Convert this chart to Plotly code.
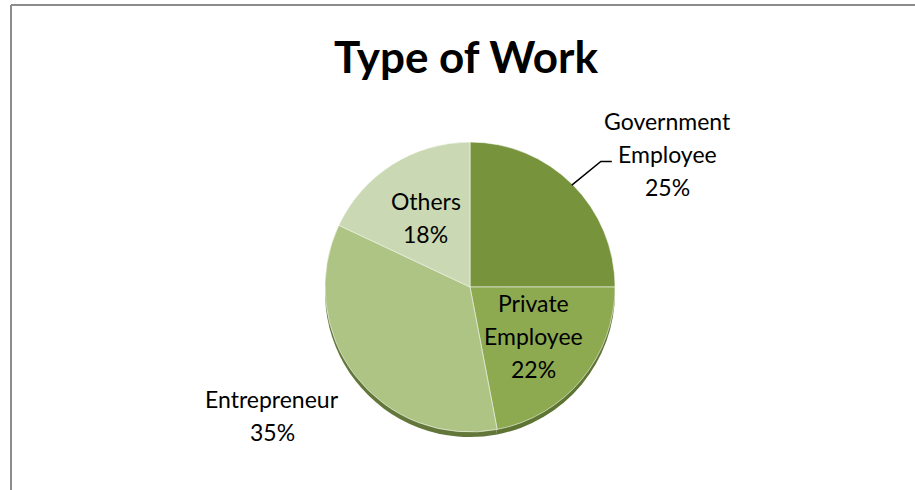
import math
import plotly.graph_objects as go

# ---- data ----
categories = ["Government Employee", "Private Employee", "Entrepreneur", "Others"]
values = [25, 22, 35, 18]
label_lines = [["Government", "Employee", "25%"],
               ["Private", "Employee", "22%"],
               ["Entrepreneur", "35%"],
               ["Others", "18%"]]
title_text = "Type of Work"

# ---- style ----
W, H = 915, 490
colors = ["#77933C", "#8DAA51", "#ADC485", "#CAD9B3"]
rim_colors = ["#55692B", "#5E7432", "#63773A", "#6E8048"]
CX, CY, R = 470, 287, 145
FONT = "Lato"
LINE_H = 33

fig = go.Figure()

def dom(cx, cy, r):
    return dict(x=[(cx - r) / W, (cx + r) / W], y=[1 - (cy + r) / H, 1 - (cy - r) / H])

# 3D rim (same data, darker, shifted down)
fig.add_trace(go.Pie(labels=categories, values=values, sort=False, direction="clockwise",
                     rotation=0, domain=dom(CX, CY + 5, R), textinfo="none", hoverinfo="skip",
                     marker=dict(colors=rim_colors, line=dict(width=0)), showlegend=False))
fig.add_trace(go.Pie(labels=categories, values=values, sort=False, direction="clockwise",
                     rotation=0, domain=dom(CX, CY, R), textinfo="none",
                     marker=dict(colors=colors, line=dict(color="rgba(255,255,255,0.55)", width=1)),
                     showlegend=False))

# label placement derived from slice mid-angles
total = sum(values)
cum = 0
mids = []
for v in values:
    mids.append((cum + v / 2) / total * 2 * math.pi)
    cum += v

# (radial factor, extra dx, extra dy) per label: inside vs outside placement
placement = [(1.0, 95, 30), (0.57, 0, 4), (1.0, -83, -40), (0.57, 0, 0)]

def px_to_paper(x, y):
    return x / W, 1 - y / H

shapes = []
annotations = []
for i, lines in enumerate(label_lines):
    th = mids[i]
    f, ddx, ddy = placement[i]
    lx = CX + math.sin(th) * R * f + ddx
    ly = CY - math.cos(th) * R * f - ddy
    n = len(lines)
    for j, t in enumerate(lines):
        yy = ly + (j - (n - 1) / 2) * LINE_H
        x, y = px_to_paper(lx, yy)
        annotations.append(dict(x=x, y=y, xref="paper", yref="paper", text=t, showarrow=False,
                                xanchor="center", yanchor="middle",
                                font=dict(family=FONT, size=23, color="#000000")))

# leader line for Government label
th = mids[0]
ex, ey = CX + math.sin(th) * (R - 1), CY - math.cos(th) * (R - 1)
lx = CX + math.sin(th) * R + placement[0][1]
ly = CY - math.cos(th) * R - placement[0][2]
elbow_x, elbow_y = ex + 29, ly + 7
end_x = elbow_x + 11
pts = [(ex, ey), (elbow_x, elbow_y), (end_x, elbow_y)]
path = "M " + " L ".join(f"{px_to_paper(a, b)[0]},{px_to_paper(a, b)[1]}" for a, b in pts)
shapes.append(dict(type="path", xref="paper", yref="paper", path=path,
                   line=dict(color="#000000", width=1.5)))

# chart-area border (top and left visible)
bx, by = 11, 5
x0, y0 = px_to_paper(bx, by)
shapes.append(dict(type="line", xref="paper", yref="paper", x0=x0, y0=y0, x1=1.01, y1=y0,
                   line=dict(color="#8C8C8C", width=2)))
shapes.append(dict(type="line", xref="paper", yref="paper", x0=x0, y0=-0.01, x1=x0, y1=y0,
                   line=dict(color="#8C8C8C", width=2)))

tx, ty = px_to_paper(466, 56)
annotations.append(dict(x=tx, y=ty, xref="paper", yref="paper", text=f"<b>{title_text}</b>",
                        showarrow=False, xanchor="center", yanchor="middle",
                        font=dict(family=FONT, size=44, color="#000000")))

fig.update_layout(width=W, height=H, margin=dict(l=0, r=0, t=0, b=0),
                  paper_bgcolor="white", plot_bgcolor="white",
                  shapes=shapes, annotations=annotations, showlegend=False)

fig.write_html("out.html", config={"displayModeBar": False},
               post_script="document.body.style.margin='0';")
